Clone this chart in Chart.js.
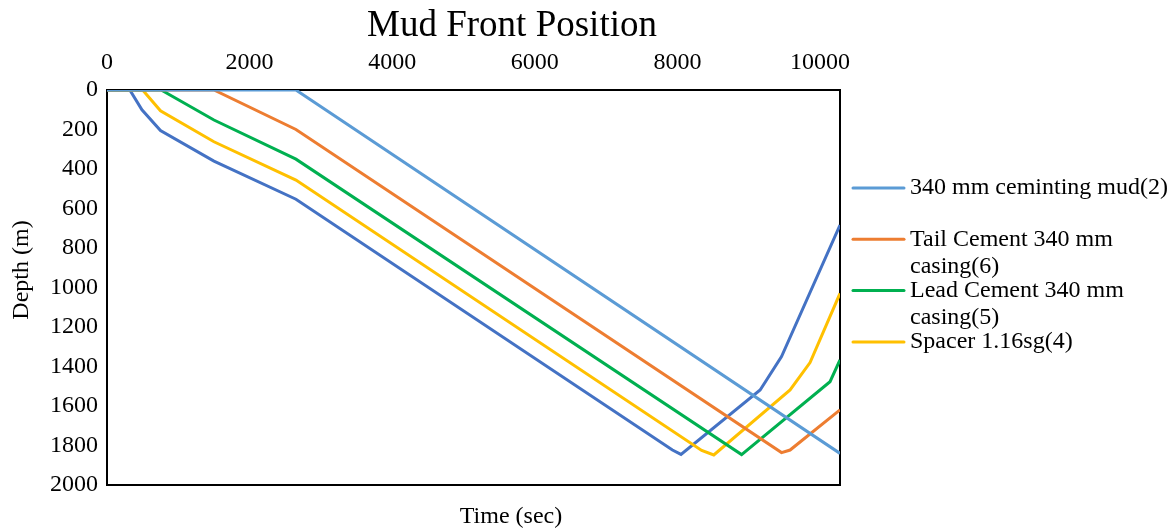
<!DOCTYPE html>
<html>
<head>
<meta charset="utf-8">
<script src="https://cdn.jsdelivr.net/npm/chart.js@4"></script>
<style>
  html, body { margin: 0; padding: 0; background: #fff; }
  #wrap { width: 1176px; height: 531px; }
</style>
</head>
<body>
<div id="wrap"><canvas id="chart" width="1176" height="531"></canvas></div>
<script>
// Datos (tiempo en s, profundidad en m)
const mudTime = [0, 2650, 10280];
const mudDepth = [0, 0, 1840];

const tailTime = [0, 1500, 2650, 9460, 9580, 10280];
const tailDepth = [0, 0, 200, 1836, 1823, 1620];

const leadTime = [0, 760, 1500, 2650, 8900, 10140, 10280];
const leadDepth = [0, 0, 152, 350, 1846, 1477, 1367];

const spacerTime = [0, 500, 750, 1500, 2650, 8340, 8510, 9580, 9860, 10280];
const spacerDepth = [0, 0, 105, 262, 456, 1825, 1848, 1519, 1380, 1030];

// serie sin entrada visible en la leyenda
const fifthTime = [0, 320, 490, 750, 1500, 2650, 7930, 8050, 9160, 9460, 10280];
const fifthDepth = [0, 0, 100, 205, 360, 553, 1823, 1845, 1519, 1350, 684];

const seriesNames = ['340 mm ceminting mud(2)', 'Tail Cement 340 mm casing(6)', 'Lead Cement 340 mm casing(5)', 'Spacer 1.16sg(4)'];
const seriesColors = ['#5B9BD5', '#ED7D31', '#00B050', '#FFC000', '#4472C4'];

const xTicks = [0, 2000, 4000, 6000, 8000, 10000];
const yTicks = [0, 200, 400, 600, 800, 1000, 1200, 1400, 1600, 1800, 2000];

const FONT = '"Liberation Serif", "Times New Roman", serif';

function toPoints(xs, ys) {
    return xs.map((x, i) => ({ x: x, y: ys[i] }));
}

function makeSet(label, xs, ys, color) {
    return {
        label: label,
        data: toPoints(xs, ys),
        borderColor: color,
        backgroundColor: color,
        borderWidth: 3,
        pointRadius: 0,
        tension: 0,
        fill: false
    };
}

// Títulos, marco y leyenda dibujados a mano
const decorations = {
    id: 'decorations',
    beforeDatasetsDraw(chart) {
        const { ctx, chartArea } = chart;
        ctx.save();
        ctx.strokeStyle = '#000';
        ctx.lineWidth = 2;
        ctx.strokeRect(chartArea.left, chartArea.top, chartArea.right - chartArea.left, chartArea.bottom - chartArea.top);
        ctx.restore();
    },
    afterDraw(chart) {
        const ctx = chart.ctx;
        ctx.save();
        ctx.fillStyle = '#000';
        ctx.textAlign = 'center';
        ctx.textBaseline = 'middle';

        ctx.font = '37px ' + FONT;
        ctx.fillText('Mud Front Position', 512, 26);

        ctx.font = '24px ' + FONT;
        ctx.fillText('Time (sec)', 511, 517);

        ctx.save();
        ctx.translate(22, 270);
        ctx.rotate(-Math.PI / 2);
        ctx.fillText('Depth (m)', 0, 0);
        ctx.restore();

        // leyenda
        ctx.textAlign = 'left';
        ctx.font = '24px ' + FONT;
        seriesNames.forEach((name, i) => {
            const y = 188 + i * 51.3;
            ctx.strokeStyle = seriesColors[i];
            ctx.lineWidth = 3;
            ctx.lineCap = 'round';
            ctx.beginPath();
            ctx.moveTo(853, y);
            ctx.lineTo(904, y);
            ctx.stroke();

            const words = name.split(' ');
            const lines = [];
            let current = '';
            words.forEach(w => {
                const test = current ? current + ' ' + w : w;
                if (ctx.measureText(test).width > 262 && current) {
                    lines.push(current);
                    current = w;
                } else {
                    current = test;
                }
            });
            lines.push(current);
            lines.forEach((line, j) => ctx.fillText(line, 910, y + j * 27));
        });
        ctx.restore();
    }
};

new Chart(document.getElementById('chart'), {
    type: 'line',
    data: {
        datasets: [
            makeSet(seriesNames[0], mudTime, mudDepth, seriesColors[0]),
            makeSet(seriesNames[1], tailTime, tailDepth, seriesColors[1]),
            makeSet(seriesNames[2], leadTime, leadDepth, seriesColors[2]),
            makeSet(seriesNames[3], spacerTime, spacerDepth, seriesColors[3]),
            makeSet('', fifthTime, fifthDepth, seriesColors[4])
        ]
    },
    options: {
        responsive: false,
        animation: false,
        layout: { padding: { left: 0, right: 336, top: 0, bottom: 46 } },
        plugins: {
            legend: { display: false },
            tooltip: { enabled: false },
            title: { display: false }
        },
        scales: {
            x: {
                type: 'linear',
                position: 'top',
                min: 0,
                max: 10280,
                afterFit: (scale) => { scale.height = 90; },
                afterBuildTicks: (scale) => { scale.ticks = xTicks.map(v => ({ value: v })); },
                grid: { display: false, drawTicks: false },
                border: { display: false },
                ticks: {
                    padding: 13,
                    color: '#000',
                    maxRotation: 0,
                    autoSkip: false,
                    font: { family: FONT, size: 24 },
                    callback: (v) => String(v)
                }
            },
            y: {
                type: 'linear',
                reverse: true,
                min: 0,
                max: 2000,
                afterFit: (scale) => { scale.width = 107; },
                afterBuildTicks: (scale) => { scale.ticks = yTicks.map(v => ({ value: v })); },
                grid: { display: false, drawTicks: false },
                border: { display: false },
                ticks: {
                    padding: 9,
                    color: '#000',
                    autoSkip: false,
                    font: { family: FONT, size: 24 },
                    callback: (v) => String(v)
                }
            }
        }
    },
    plugins: [decorations]
});
</script>
</body>
</html>
